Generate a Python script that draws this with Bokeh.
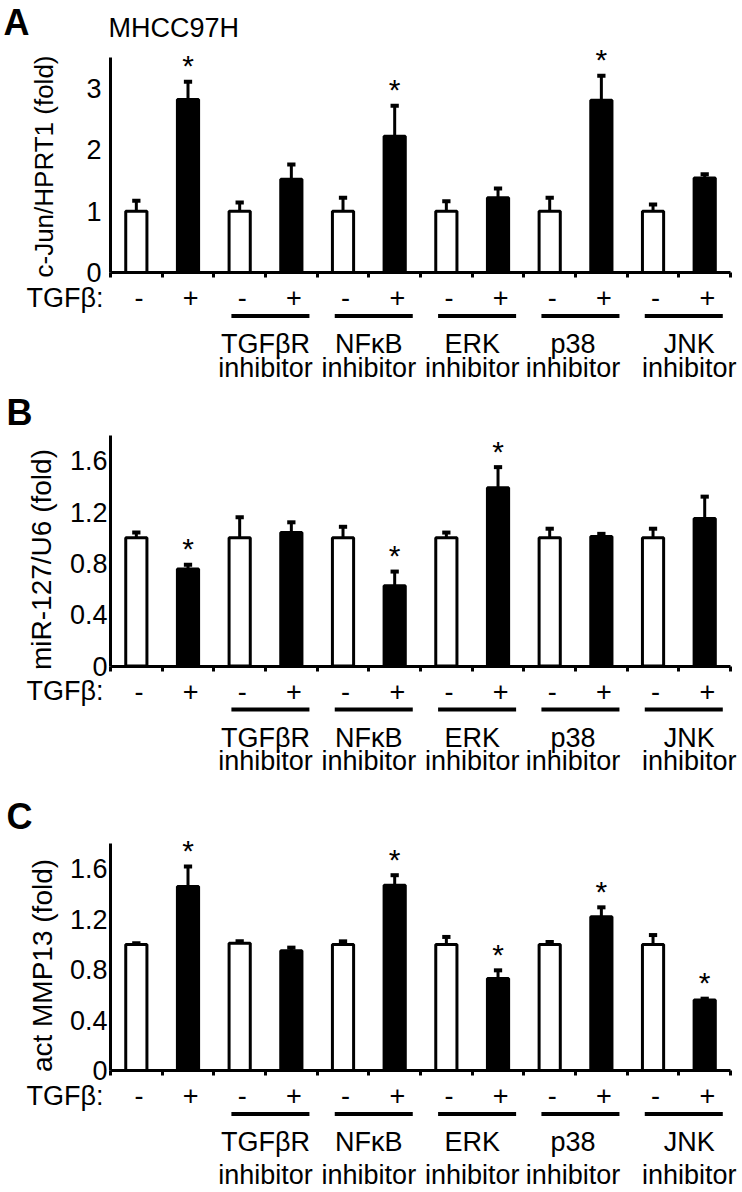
import math
from bokeh.plotting import figure
from bokeh.models import LinearAxis, FixedTicker, Range1d
from bokeh.core.properties import value
from bokeh.embed import file_html
from bokeh.resources import INLINE

# ---------------- data ----------------
tgfb = ["-", "+", "-", "+", "-", "+", "-", "+", "-", "+", "-", "+"]
inhibitors = ["TGFβR", "NFκB", "ERK", "p38", "JNK"]
inhibitor_word = "inhibitor"

cjun_vals = [1.0, 2.82, 1.0, 1.52, 1.0, 2.22, 1.0, 1.22, 1.0, 2.81, 1.0, 1.54]
cjun_err = [0.17, 0.29, 0.14, 0.24, 0.22, 0.50, 0.16, 0.15, 0.22, 0.40, 0.11, 0.06]
cjun_sig = [0, 1, 0, 0, 0, 1, 0, 0, 0, 1, 0, 0]
cjun_ticks = [0, 1, 2, 3]

mir_vals = [1.0, 0.756, 1.0, 1.04, 1.0, 0.626, 1.0, 1.39, 1.0, 1.01, 1.0, 1.15]
mir_err = [0.04, 0.034, 0.16, 0.08, 0.085, 0.11, 0.04, 0.16, 0.07, 0.02, 0.07, 0.17]
mir_sig = [0, 1, 0, 0, 0, 1, 0, 1, 0, 0, 0, 0]
mir_ticks = [0, 0.4, 0.8, 1.2, 1.6]

mmp_vals = [1.0, 1.46, 1.01, 0.95, 1.0, 1.47, 1.0, 0.73, 1.0, 1.22, 1.0, 0.56]
mmp_err = [0.01, 0.16, 0.015, 0.025, 0.025, 0.08, 0.06, 0.065, 0.02, 0.075, 0.075, 0.01]
mmp_sig = [0, 1, 0, 0, 0, 1, 0, 1, 0, 1, 0, 1]
mmp_ticks = [0, 0.4, 0.8, 1.2, 1.6]

# ---------------- layout constants ----------------
FONT = "Liberation Sans"
W, H = 742, 1192
X0_PX = 110.0      # pixel of the y axis (category boundary 0)
PPX = 51.67        # pixels per category
BAR_W = 0.41
CAP_HALF = 0.08
SIGN_SHIFT = 0.05
GROUP_LABEL_SHIFT = [0.0, 0.0, 0.0, -0.05, 0.2]
TXT = "27px"

x_start = -X0_PX / PPX
x_end = (W - X0_PX) / PPX


def yrange(zero_px, ppu):
    return Range1d((zero_px - H) / ppu, zero_px / ppu)


pan_A = dict(zero=272.0, ppu=61.33)
pan_B = dict(zero=665.5, ppu=128.3)
pan_C = dict(zero=1070.0, ppu=126.0)

p = figure(width=W, height=H, x_range=Range1d(x_start, x_end),
           y_range=yrange(pan_A["zero"], pan_A["ppu"]),
           x_axis_type=None, y_axis_type=None,
           output_backend="svg", toolbar_location=None,
           min_border=0, outline_line_color=None, title=None)
p.extra_y_ranges = {"B": yrange(pan_B["zero"], pan_B["ppu"]),
                    "C": yrange(pan_C["zero"], pan_C["ppu"])}
p.background_fill_color = "white"
p.border_fill_color = "white"


def txt(rn, **kw):
    base = dict(text_font=value(FONT), text_font_size=TXT, text_color="black",
                text_baseline="middle", y_range_name=rn)
    base.update(kw)
    return p.text(**base)


def panel(rn, pan, letter, letter_x_px, letter_y_px, ylabel, vals, errs, sig,
          yticks, ymax, ylab_x_px, ylab_y_px, ylab_size, tick_standoff,
          inh_px, overrides=None, title_text=None):
    ppu = pan["ppu"]

    def Y(px):
        return px / ppu

    def X(px):
        return (px - X0_PX) / PPX

    n = len(vals)
    centers = [i + 0.5 for i in range(n)]
    fills = ["white" if s == "-" else "black" for s in tgfb]
    tops = [v + e for v, e in zip(vals, errs)]

    yax = LinearAxis(y_range_name=rn, fixed_location=0, bounds=(0, ymax),
                     ticker=FixedTicker(ticks=yticks))
    yax.axis_line_width = 3
    yax.axis_line_color = "black"
    yax.major_tick_line_color = None
    yax.minor_tick_line_color = None
    yax.major_tick_out = 0
    yax.major_tick_in = 0
    yax.major_label_standoff = tick_standoff
    yax.major_label_text_font = FONT
    yax.major_label_text_font_size = TXT
    yax.major_label_text_color = "black"
    if overrides:
        yax.major_label_overrides = overrides
    p.add_layout(yax, "left")

    xax = LinearAxis(y_range_name=rn, fixed_location=0, bounds=(0, n),
                     ticker=FixedTicker(ticks=list(range(n + 1))))
    xax.axis_line_width = 3
    xax.axis_line_color = "black"
    xax.major_tick_line_width = 3
    xax.major_tick_out = 5
    xax.major_tick_in = 0
    xax.minor_tick_line_color = None
    xax.major_label_standoff = 0
    xax.major_label_overrides = {i: "" for i in range(n + 1)}
    xax.major_label_text_font_size = "0px"
    p.add_layout(xax, "below")

    p.vbar(x=centers, top=vals, bottom=0, width=BAR_W, fill_color=fills,
           line_color="black", line_width=3, y_range_name=rn)
    p.segment(x0=centers, y0=vals, x1=centers, y1=tops,
              line_color="black", line_width=3, y_range_name=rn)
    p.segment(x0=[c - CAP_HALF for c in centers], y0=tops,
              x1=[c + CAP_HALF for c in centers], y1=tops,
              line_color="black", line_width=4, y_range_name=rn)

    sx = [c for c, s in zip(centers, sig) if s]
    sy = [t for t, s in zip(tops, sig) if s]
    txt(rn, x=sx, y=sy, text=["*"] * len(sx), text_align="center",
        y_offset=-16, text_font_size="30px")

    txt(rn, x=[X(ylab_x_px)], y=[Y(ylab_y_px)], text=[ylabel], angle=math.pi / 2,
        text_align="center", text_font_size=ylab_size)

    txt(rn, x=[X(letter_x_px)], y=[Y(letter_y_px)], text=[letter], text_align="left",
        text_font_style="bold", text_font_size="36px")
    if title_text:
        txt(rn, x=[X(108)], y=[Y(244.5)], text=[title_text], text_align="left")

    row_y = -Y(25)
    txt(rn, x=[c + SIGN_SHIFT for c in centers], y=[row_y] * n, text=tgfb,
        text_align="center")
    txt(rn, x=[X(103)], y=[row_y], text=["TGFβ:"], text_align="right")

    gstarts = [2 + 2 * k for k in range(len(inhibitors))]
    line_y = -Y(43.5)
    p.segment(x0=[g + 0.34 for g in gstarts], y0=[line_y] * len(gstarts),
              x1=[g + 1.85 for g in gstarts], y1=[line_y] * len(gstarts),
              line_color="black", line_width=4, y_range_name=rn)
    gx = [g + 1.0 + s for g, s in zip(gstarts, GROUP_LABEL_SHIFT)]
    txt(rn, x=gx, y=[-Y(71.5)] * len(gx), text=inhibitors, text_align="center")
    txt(rn, x=gx, y=[-Y(inh_px)] * len(gx), text=[inhibitor_word] * len(gx),
        text_align="center")


panel("default", pan_A, "A", 3, 250, "c-Jun/HPRT1 (fold)", cjun_vals, cjun_err,
      cjun_sig, cjun_ticks, 3.5, ylab_x_px=43, ylab_y_px=106, ylab_size="26px",
      tick_standoff=9, inh_px=95, title_text="MHCC97H")
panel("B", pan_B, "B", 6, 254, "miR-127/U6 (fold)", mir_vals, mir_err, mir_sig,
      mir_ticks, 1.8, ylab_x_px=41, ylab_y_px=106.5, ylab_size="28px",
      tick_standoff=3, inh_px=95, overrides={0: "0"})
panel("C", pan_C, "C", 6, 254, "act MMP13 (fold)", mmp_vals, mmp_err, mmp_sig,
      mmp_ticks, 1.8, ylab_x_px=42, ylab_y_px=105, ylab_size="28px",
      tick_standoff=3, inh_px=104, overrides={0: "0"})

open("out.html", "w").write(file_html(p, INLINE))
